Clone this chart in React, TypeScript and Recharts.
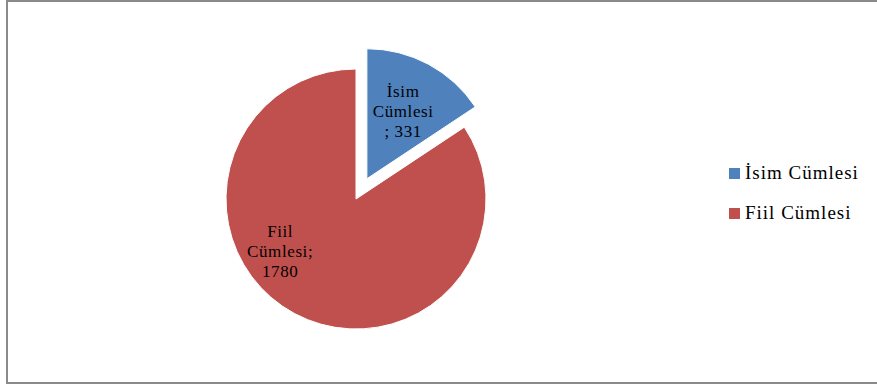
import { PieChart, Pie, Cell } from "recharts";

// slice data
const categories = ["İsim Cümlesi", "Fiil Cümlesi"];
const values = [331, 1780];
const colors = ["#4F81BD", "#C0504D"];
// Excel wraps the "; value" part differently per slice
const semicolonOwnLine = [true, false];
// Excel "best fit" label placement, relative to slice middle
const labelAngleShift = [0, -27];
const labelRadiusFactor = [0.59, 0.71];

const data = categories.map((name, i) => ({ name, value: values[i] }));
const total = values.reduce((a, b) => a + b, 0);

const RADIAN = Math.PI / 180;
const CX = 356;
const CY = 199;
const R = 130;
const EXPLODE = 23;

// the first slice is pulled out along its middle angle
const explodeMid = 90 - ((values[0] / total) * 360) / 2;
const exDx = EXPLODE * Math.cos(explodeMid * RADIAN);
const exDy = -EXPLODE * Math.sin(explodeMid * RADIAN);

const font = "'Times New Roman', 'Liberation Serif', Tinos, serif";

const labelLines = (i: number) => {
  const [w1, w2] = categories[i].split(" ");
  return semicolonOwnLine[i] ? [w1, w2, "; " + values[i]] : [w1, w2 + ";", String(values[i])];
};

const makeLabel = (showIndex: number) => (props: any) => {
  const { cx, cy, midAngle, outerRadius, index } = props;
  if (index !== showIndex) return null;
  const a = (midAngle + labelAngleShift[index]) * RADIAN;
  const r = outerRadius * labelRadiusFactor[index];
  const x = cx + r * Math.cos(-a);
  const y = cy + r * Math.sin(-a);
  const lines = labelLines(index);
  return (
    <text x={x} y={y} textAnchor="middle" fill="#000" style={{ fontFamily: font }} fontSize={17} letterSpacing={0.6}>
      {lines.map((l, k) => (
        <tspan key={k} x={x} y={y + (k - 1) * 20} dominantBaseline="central">
          {l}
        </tspan>
      ))}
    </text>
  );
};

export default function App() {
  return (
    <div style={{ position: "absolute", left: 0, top: 0, width: 877, height: 385, overflow: "hidden", background: "#fff" }}>
      <div
        style={{
          position: "absolute",
          left: 6,
          top: 0,
          width: 900,
          height: 380,
          border: "2px solid #8a8a8a",
        }}
      />
      <div style={{ position: "absolute", left: 0, top: 0 }}>
        <PieChart width={877} height={385} margin={{ top: 0, right: 0, bottom: 0, left: 0 }}>
          <Pie
            data={data}
            dataKey="value"
            nameKey="name"
            cx={CX}
            cy={CY}
            outerRadius={R}
            startAngle={90}
            endAngle={-270}
            labelLine={false}
            label={makeLabel(1)}
            isAnimationActive={false}
          >
            {data.map((d, i) => (
              <Cell key={d.name} fill={i === 1 ? colors[i] : "transparent"} stroke={i === 1 ? "#fff" : "none"} strokeWidth={1} />
            ))}
          </Pie>
          <Pie
            data={data}
            dataKey="value"
            nameKey="name"
            cx={CX + exDx}
            cy={CY + exDy}
            outerRadius={R}
            startAngle={90}
            endAngle={-270}
            labelLine={false}
            label={makeLabel(0)}
            isAnimationActive={false}
          >
            {data.map((d, i) => (
              <Cell key={d.name} fill={i === 0 ? colors[i] : "transparent"} stroke={i === 0 ? "#fff" : "none"} strokeWidth={1} />
            ))}
          </Pie>
        </PieChart>
      </div>
      {/* legend, drawn beside the plot like Excel does */}
      <div style={{ position: "absolute", left: 729, top: 153, fontFamily: font, fontSize: 19, color: "#000" }}>
        {categories.map((c, i) => (
          <div key={c} style={{ display: "flex", alignItems: "center", height: 40 }}>
            <span style={{ display: "inline-block", width: 11, height: 11, background: colors[i], marginRight: 5 }} />
            <span style={{ letterSpacing: 1 }}>{c}</span>
          </div>
        ))}
      </div>
    </div>
  );
}
